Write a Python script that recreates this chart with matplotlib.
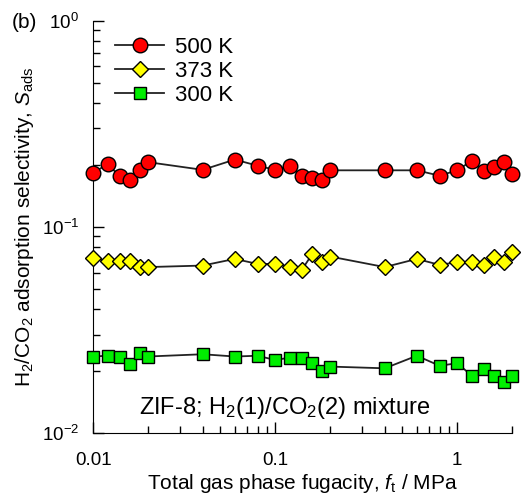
import matplotlib
matplotlib.use("Agg")
import matplotlib.pyplot as plt
from matplotlib.ticker import LogLocator, FixedLocator, FixedFormatter

plt.rcParams['font.family'] = ['Liberation Sans', 'DejaVu Sans']
plt.rcParams['mathtext.fontset'] = 'custom'
plt.rcParams['mathtext.rm'] = 'Liberation Sans'
plt.rcParams['mathtext.it'] = 'Liberation Sans:italic'

# total gas phase fugacity, MPa
fugacity = [0.01, 0.012, 0.014, 0.016, 0.018, 0.02, 0.04, 0.06, 0.08, 0.1,
            0.12, 0.14, 0.16, 0.18, 0.2, 0.4, 0.6, 0.8, 1.0, 1.2, 1.4, 1.6, 1.8, 2.0]

s_500 = [0.182, 0.202, 0.176, 0.168, 0.188, 0.206, 0.189, 0.212, 0.198, 0.189,
         0.198, 0.177, 0.173, 0.169, 0.188, 0.188, 0.188, 0.177, 0.188, 0.209,
         0.186, 0.196, 0.206, 0.180]
s_373 = [0.0705, 0.0686, 0.0686, 0.0686, 0.0638, 0.0638, 0.0649, 0.0699, 0.0661, 0.0661,
         0.0642, 0.0618, 0.0739, 0.0679, 0.0718, 0.0638, 0.0699, 0.0654, 0.0674, 0.0674,
         0.0654, 0.0713, 0.0679, 0.0754]
s_300 = [0.0235, 0.0237, 0.0235, 0.0216, 0.0245, 0.0235, 0.0241, 0.0235, 0.0237, 0.0226,
         0.0232, 0.0231, 0.0218, 0.0199, 0.0210, 0.0206, 0.0237, 0.0212, 0.0218, 0.0190,
         0.0205, 0.0188, 0.0176, 0.0188]

fig = plt.figure(figsize=(5.23, 4.98), dpi=100)
ax = fig.add_axes([0.178, 0.1305, 0.801, 0.828])

ax.plot(fugacity, s_500, '-o', color='#222222', lw=1.3, mfc='#ff0000', mec='black',
        mew=1.0, ms=10.5, label='500 K', clip_on=False, zorder=3)
ax.plot(fugacity, s_373, '-D', color='#222222', lw=1.3, mfc='#ffff00', mec='black',
        mew=1.0, ms=8.5, label='373 K', clip_on=False, zorder=3)
ax.plot(fugacity, s_300, '-s', color='#222222', lw=1.3, mfc='#00ee00', mec='black',
        mew=1.0, ms=9, label='300 K', clip_on=False, zorder=3)

ax.set_xscale('log')
ax.set_yscale('log')
ax.set_xlim(0.01, 2.0)
ax.set_ylim(0.01, 1.0)

ax.spines['top'].set_visible(False)
ax.spines['right'].set_visible(False)
ax.tick_params(which='both', direction='in', labelsize=13.5, width=1)
ax.tick_params(which='major', length=8)
ax.tick_params(which='minor', length=5)
ax.xaxis.set_major_locator(FixedLocator([0.01, 0.1, 1]))
ax.xaxis.set_major_formatter(FixedFormatter(['0.01', '0.1', '1']))
ax.xaxis.set_minor_locator(LogLocator(base=10, subs=range(2, 10)))
ax.yaxis.set_minor_locator(LogLocator(base=10, subs=range(2, 10)))
ax.tick_params(axis='x', pad=14)
ax.tick_params(axis='y', pad=10)

ax.set_xlabel('Total gas phase fugacity, $\\mathit{f}_{\\rm t}$ / MPa', fontsize=15, labelpad=2)
ax.set_ylabel('H$_2$/CO$_2$ adsorption selectivity, $\\mathit{S}_{\\rm ads}$', fontsize=15, labelpad=4)

ax.legend(loc='upper left', frameon=False, fontsize=16, bbox_to_anchor=(0.005, 1.01),
          handlelength=2.2, labelspacing=0.15, handletextpad=0.5)

ax.text(0.458, 0.06, 'ZIF-8; H$_2$(1)/CO$_2$(2) mixture', transform=ax.transAxes,
        ha='center', va='center', fontsize=17)
fig.text(0.022, 0.955, '(b)', fontsize=15, ha='left', va='center')

fig.savefig('out.png', dpi=100)
